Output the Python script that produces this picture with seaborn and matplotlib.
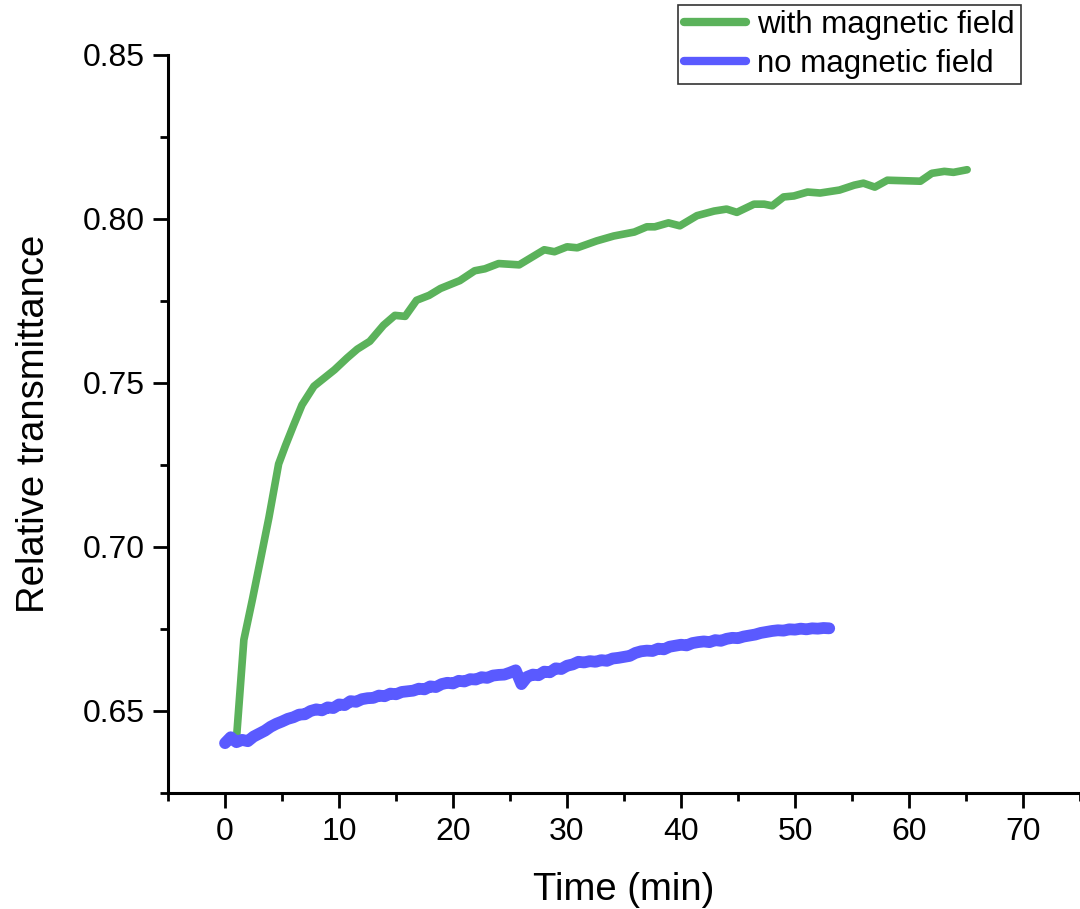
import numpy as np
import pandas as pd
import matplotlib
matplotlib.use("Agg")
import matplotlib.pyplot as plt
from matplotlib.ticker import MultipleLocator
import seaborn as sns

# data
time_with = [1.0, 1.65, 2.4, 3.1, 3.85, 4.7, 5.3, 6.0, 6.75, 7.8, 8.7, 9.6,
             10.7, 11.6, 12.7, 13.9, 14.9, 15.8, 16.8, 17.9, 18.9, 20.6, 21.9,
             22.8, 24.0, 25.8, 28.0, 28.9, 30.0, 30.9, 32.6, 34.1, 35.9, 37.0,
             37.7, 38.9, 39.9, 41.4, 42.9, 44.0, 44.9, 46.4, 47.3, 48.0, 49.0,
             49.9, 51.1, 52.2, 53.9, 55.2, 56.0, 57.0, 58.1, 61.0, 62.0, 63.1,
             63.9, 65.1]
trans_with = [0.6415, 0.6717, 0.684, 0.696, 0.709, 0.7253, 0.7309, 0.737,
              0.7433, 0.749, 0.7515, 0.754, 0.7576, 0.7603, 0.7627, 0.7676,
              0.7706, 0.7703, 0.7752, 0.7767, 0.7788, 0.7812, 0.7842, 0.7848,
              0.7864, 0.786, 0.7906, 0.790, 0.7915, 0.7912, 0.7933, 0.7948,
              0.796, 0.7976, 0.7976, 0.7988, 0.7979, 0.801, 0.8024, 0.803,
              0.802, 0.8045, 0.8045, 0.804, 0.8067, 0.807, 0.8082, 0.8079,
              0.8088, 0.8103, 0.8109, 0.8097, 0.8118, 0.8115, 0.8139, 0.8145,
              0.8142, 0.815]

# no field: sampled every 0.5 min
time_no = np.arange(0, 53.5, 0.5)
trans_no = [0.6402, 0.6420, 0.6405, 0.6412, 0.6408, 0.6422, 0.6431, 0.6440,
            0.6452, 0.6461, 0.6468, 0.6476, 0.6481, 0.6489, 0.6490, 0.6500,
            0.6505, 0.6502, 0.6511, 0.6509, 0.6520, 0.6518, 0.6530, 0.6528,
            0.6536, 0.6539, 0.6540, 0.6547, 0.6545, 0.6553, 0.6551, 0.6558,
            0.6560, 0.6562, 0.6568, 0.6566, 0.6575, 0.6573, 0.6582, 0.6586,
            0.6584, 0.6592, 0.6590, 0.6597, 0.6596, 0.6603, 0.6601, 0.6608,
            0.6610, 0.6611, 0.6617, 0.6624, 0.6582, 0.6604, 0.6611, 0.6609,
            0.6620, 0.6618, 0.6630, 0.6628, 0.6638, 0.6642, 0.6650, 0.6648,
            0.6652, 0.6650, 0.6655, 0.6653, 0.6660, 0.6662, 0.6665, 0.6668,
            0.6677, 0.6682, 0.6684, 0.6683, 0.6690, 0.6688, 0.6696, 0.6699,
            0.6702, 0.6700, 0.6707, 0.6710, 0.6712, 0.6710, 0.6716, 0.6714,
            0.6720, 0.6723, 0.6722, 0.6727, 0.6730, 0.6733, 0.6738, 0.6741,
            0.6744, 0.6746, 0.6745, 0.6749, 0.6748, 0.6751, 0.6749, 0.6752,
            0.6751, 0.6753, 0.6752]

labels = ["with magnetic field", "no magnetic field"]
colors = ["#5bb25b", "#5a5aff"]

df_with = pd.DataFrame({"t": time_with, "T": trans_with})
df_no = pd.DataFrame({"t": time_no, "T": trans_no})

sns.set_style("ticks")
plt.rcParams["font.family"] = ["Liberation Sans", "DejaVu Sans"]
plt.rcParams["text.color"] = "black"
plt.rcParams["axes.labelcolor"] = "black"
plt.rcParams["xtick.color"] = "black"
plt.rcParams["ytick.color"] = "black"

fig = plt.figure(figsize=(10.8, 9.09), dpi=100)
ax = fig.add_axes([0.1556, 0.1276, 0.8444, 0.812])

sns.lineplot(data=df_with, x="t", y="T", ax=ax, color=colors[0], lw=5.5,
             label=labels[0], solid_capstyle="round")
sns.lineplot(data=df_no, x="t", y="T", ax=ax, color=colors[1], lw=8.5,
             label=labels[1], solid_capstyle="round", solid_joinstyle="round")

ax.set_xlim(-5, 75)
ax.set_ylim(0.625, 0.85)
ax.xaxis.set_minor_locator(MultipleLocator(5))
ax.yaxis.set_minor_locator(MultipleLocator(0.025))
ax.set_xticks([0, 10, 20, 30, 40, 50, 60, 70])
ax.set_yticks([0.65, 0.70, 0.75, 0.80, 0.85])
ax.set_yticklabels(["0.65", "0.70", "0.75", "0.80", "0.85"])

for s in ["top", "right"]:
    ax.spines[s].set_visible(False)
for s in ["left", "bottom"]:
    ax.spines[s].set_linewidth(2.2)
    ax.spines[s].set_color("black")

ax.tick_params(which="major", direction="out", length=11, width=2, labelsize=23,
               colors="black", pad=6)
ax.tick_params(which="minor", direction="out", length=5.5, width=2)

ax.set_xlabel("Time (min)", fontsize=27.5, labelpad=18)
ax.set_ylabel("Relative transmittance", fontsize=27.5, labelpad=22)

ax.get_legend().remove()
handles, _ = ax.get_legend_handles_labels()
leg = fig.legend(handles, labels, loc="upper right", bbox_to_anchor=(0.945, 0.995),
                 fontsize=22.5, frameon=True, fancybox=False, edgecolor="black",
                 handlelength=2.0, handletextpad=0.35, borderpad=0.18,
                 labelspacing=0.27, borderaxespad=0)
leg.get_frame().set_linewidth(1.2)
for line in leg.get_lines():
    line.set_linewidth(6)

fig.savefig("out.png", dpi=100, facecolor="white")
